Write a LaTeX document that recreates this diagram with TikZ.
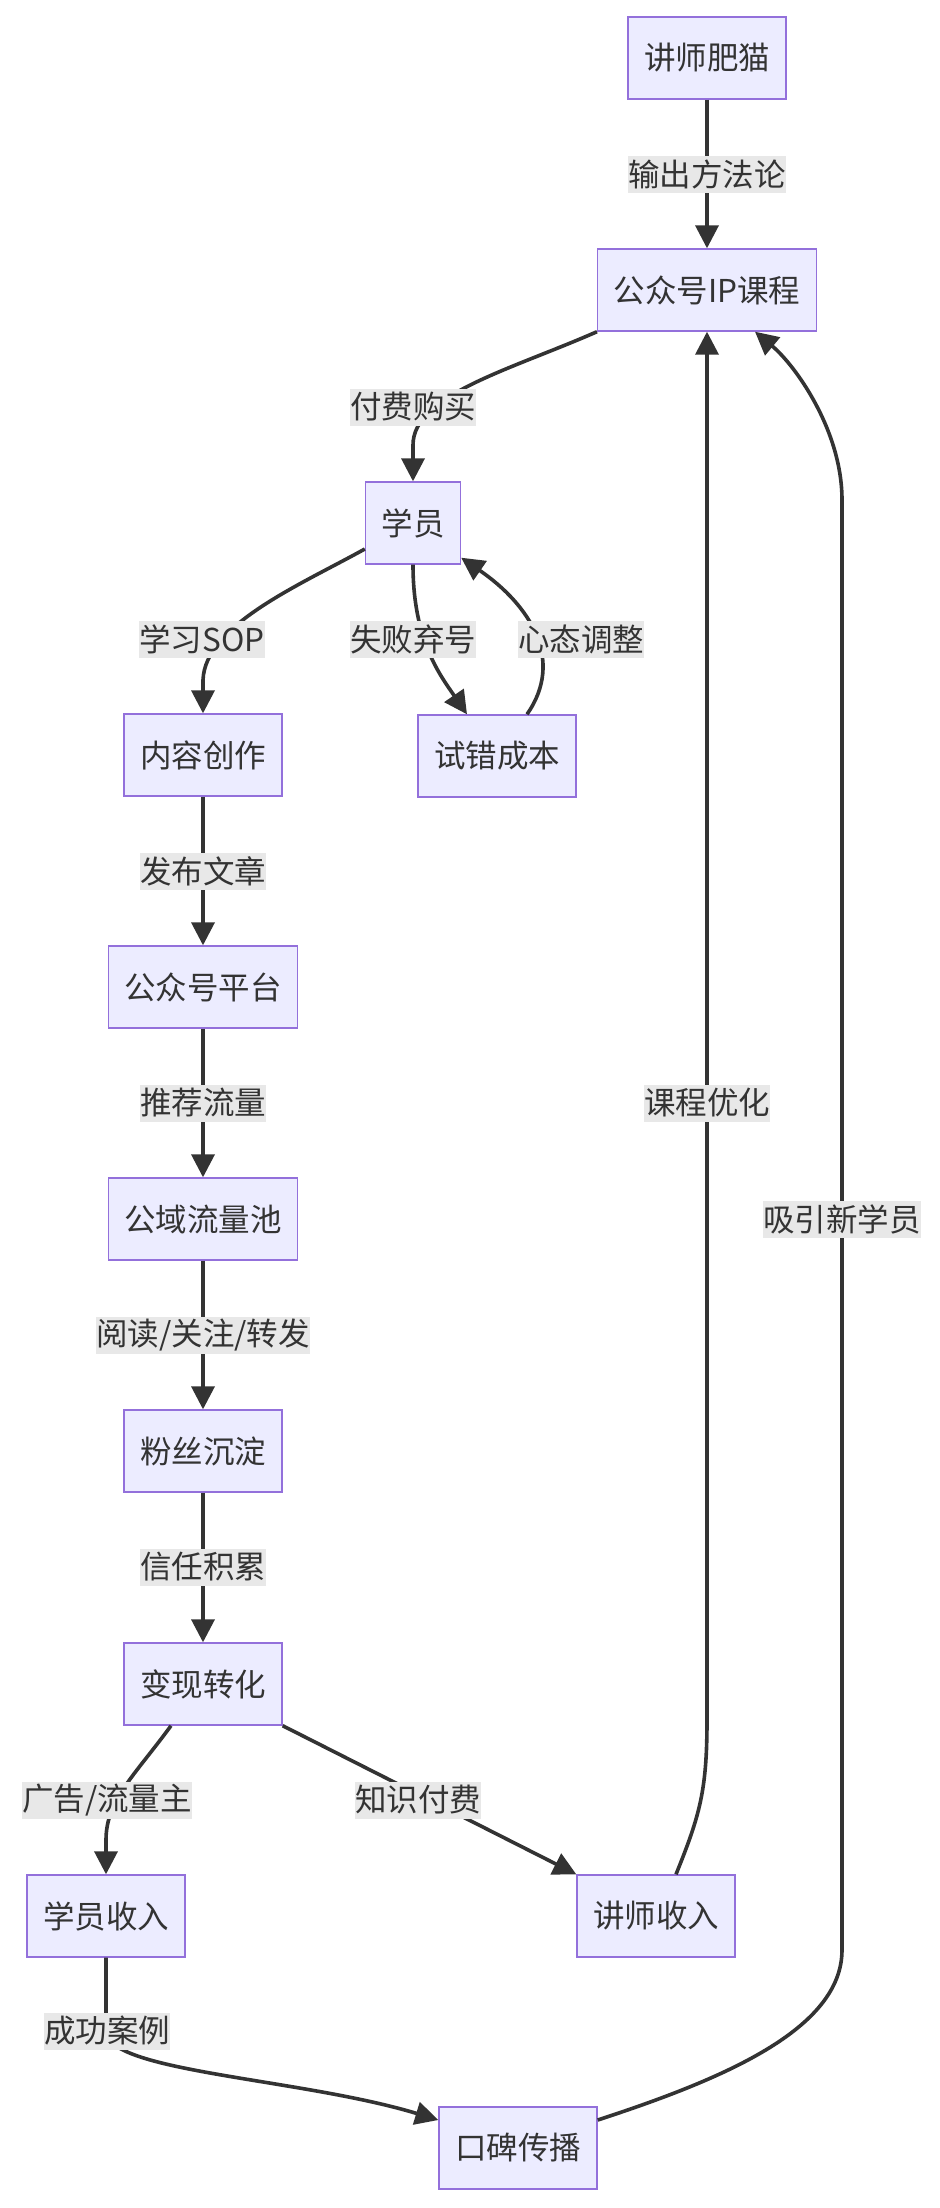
\documentclass[tikz,border=0pt]{standalone}
\usepackage{fontspec}
\setmainfont{Noto Sans CJK SC}
\usepackage{tikz}
\usetikzlibrary{arrows.meta}

\definecolor{boxfill}{HTML}{ECECFF}
\definecolor{boxline}{HTML}{9370DB}
\definecolor{inkgray}{HTML}{333333}
\definecolor{labelbg}{HTML}{E8E8E8}

\newcommand{\diagfont}{\fontsize{15.75pt}{19pt}\selectfont}

\tikzset{
  box/.style={draw=boxline, fill=boxfill, line width=0.7pt, minimum height=41pt,
    inner xsep=8pt, inner ysep=0pt, text=inkgray, font=\diagfont},
  lbl/.style={fill=labelbg, inner sep=0pt, minimum height=18.5pt, text=inkgray, font=\diagfont},
  flow/.style={draw=inkgray, line width=1.8pt, -{Triangle[length=11.5pt,width=11.5pt]}}
}

\begin{document}
\begin{tikzpicture}[x=0.5pt,y=-0.5pt]
    % Canvas (pixel grid, y downwards)
    \fill[white] (0,0) rectangle (940,2208);
    \useasboundingbox (0,0) rectangle (940,2208);

    % Boxes
    \node[box] (teacher)  at (707,58)   {讲师肥猫};
    \node[box] (course)   at (707,290)  {公众号IP课程};
    \node[box] (student)  at (413,523)  {学员};
    \node[box] (create)   at (203,755)  {内容创作};
    \node[box] (trial)    at (497,756)  {试错成本};
    \node[box] (platform) at (203,987)  {公众号平台};
    \node[box] (pool)     at (203,1219) {公域流量池};
    \node[box] (fans)     at (203,1451) {粉丝沉淀};
    \node[box] (convert)  at (203,1684) {变现转化};
    \node[box] (sincome)  at (106,1916) {学员收入};
    \node[box] (tincome)  at (656,1916) {讲师收入};
    \node[box] (wom)      at (518,2148) {口碑传播};

    % Top: teacher -> course -> student
    \draw[flow] (teacher) -- (course);
    \draw[flow] (course.south west) .. controls (510,370) and (413,395) .. (413,445) -- (student.north);

    % Student branches and the trial loop
    \draw[flow] ([yshift=-13pt]student.west) .. controls (300,585) and (205,625) .. (203,680) -- (create.north);
    \draw[flow] (student.south) .. controls (413,640) and (440,675) .. ([xshift=-15pt]trial.north);
    \draw[flow] ([xshift=15pt]trial.north) .. controls (565,660) and (530,605) .. ([yshift=3.5pt]student.south east);

    % Main chain
    \draw[flow] (create) -- (platform);
    \draw[flow] (platform) -- (pool);
    \draw[flow] (pool) -- (fans);
    \draw[flow] (fans) -- (convert);

    % Income split
    \draw[flow] ([xshift=-16pt]convert.south) .. controls (135,1775) and (106,1800) .. (106,1840) -- (sincome.north);
    \draw[flow] (convert.south east) -- (tincome.north west);

    % Feedback to the course
    \draw[flow] ([xshift=10pt]tincome.north) .. controls (700,1815) and (707,1790) .. (707,1720) -- (course.south);
    \draw[flow] (sincome.south) -- (106,2031) .. controls (106,2072) and (300,2078) .. ([yshift=14pt]wom.west);
    \draw[flow] ([yshift=14pt]wom.east) .. controls (720,2080) and (842,2030) .. (842,1950) -- (842,500)
        .. controls (842,430) and (795,365) .. ([xshift=24pt]course.south);

    % Edge labels
    \node[lbl] (lOutput)  at (707,174)  {输出方法论};
    \node[lbl] (lBuy)     at (413,407)  {付费购买};
    \node[lbl] (lSop)     at (202,639)  {学习SOP};
    \node[lbl] (lQuit)    at (413,639)  {失败弃号};
    \node[lbl] (lMind)    at (581,639)  {心态调整};
    \node[lbl] (lPublish) at (203,871)  {发布文章};
    \node[lbl] (lRecomm)  at (203,1103) {推荐流量};
    \node[lbl] (lRead)    at (203,1335) {阅读/关注/转发};
    \node[lbl] (lTrust)   at (203,1567) {信任积累};
    \node[lbl] (lAds)     at (107,1800) {广告/流量主};
    \node[lbl] (lPaid)    at (418,1800) {知识付费};
    \node[lbl] (lOptim)   at (707,1103) {课程优化};
    \node[lbl] (lAttract) at (842,1219) {吸引新学员};
    \node[lbl] (lCase)    at (107,2031) {成功案例};
\end{tikzpicture}
\end{document}
